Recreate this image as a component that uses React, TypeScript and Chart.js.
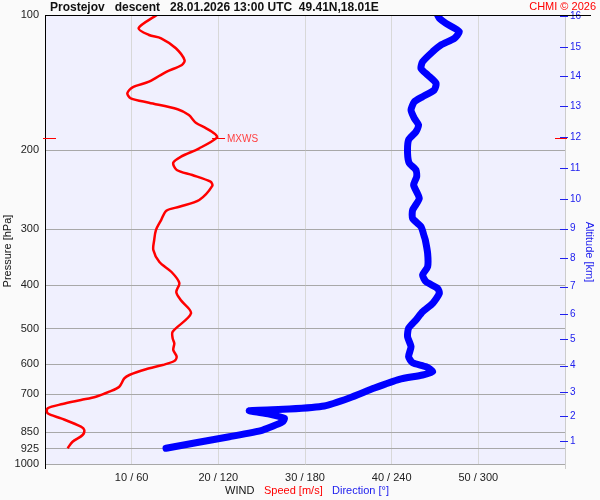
import React, { useEffect, useRef } from 'react';
import { Chart, registerables } from 'chart.js';

Chart.register(...registerables);

const FONT = "'Liberation Sans', Arial, Helvetica, sans-serif";

const TITLE = 'Prostejov   descent   28.01.2026 13:00 UTC  49.41N,18.01E';
const COPYRIGHT = 'CHMI © 2026';

// Wind speed profile [m/s] vs pressure [hPa]
const speedPressure = [
  100, 107, 110.8, 112.7, 118.6, 126, 129.2, 133.8, 140.8, 144.9, 149.4, 153.3, 156.8, 162.2, 167.1,
  173.8, 178.8, 184, 187.5, 198.1, 206.8, 213.3, 221.4, 227.2, 235.1, 240.3, 258.2, 267.3, 272.9,
  286.2, 301.3, 317, 333.7, 354.9, 373.6, 395.3, 414, 431.3, 461.7, 507.4, 524.9, 538.5, 557.3,
  576.8, 589.7, 601.9, 615.3, 633.6, 644.5, 672.8, 690.2, 708.2, 720.3, 735.3, 751.6, 771.1, 791.1,
  825.9, 840, 861.8, 891.9, 922.6,
];
const speedValues = [
  12.9, 10.8, 12.0, 13.4, 15.1, 16.1, 15.8, 14.0, 12.0, 10.1, 9.5, 9.9, 12.0, 15.3, 16.6,
  17.4, 18.6, 19.6, 19.85, 17.8, 15.7, 14.8, 15.2, 17.0, 19.1, 19.3, 17.8, 15.5, 14.0,
  13.4, 12.8, 12.6, 12.5, 13.2, 14.6, 15.5, 15.15, 15.66, 16.85, 14.73, 14.73, 14.92, 14.8,
  15.19, 14.92, 13.57, 11.65, 9.73, 9.15, 8.57, 7.42, 5.88, 4.15, 2.03, 0.3, 0.3, 1.85,
  4.15, 4.53, 4.34, 3.18, 2.61,
];

// Wind direction profile [deg] vs pressure [hPa]
const directionPressure = [
  100, 101.7, 104.4, 108.9, 112.7, 116.6, 120.7, 127.1, 131.5, 136, 141.9, 146.9, 152, 156, 162.8,
  169.9, 175.8, 182, 189.9, 203.2, 213.9, 221.4, 229.2, 239.1, 256, 271.9, 283.7, 296.2, 311.7,
  317, 339.5, 363.6, 379.4, 392.6, 406.2, 416.8, 438.6, 457.9, 477.8, 498.5, 520.6, 548, 576.8,
  594.9, 607.3, 623, 633.6, 647.8, 677.3, 712.9, 742.9, 754.6, 760.3, 774, 791.1, 806.3, 840.2,
  869.5, 896.6, 922.6,
];
const directionValues = [
  271.8, 273, 277.6, 286.8, 283.4, 274.1, 268.4, 261.4, 260.3, 264.9, 270.7, 269.5, 261.4, 255.7, 253.4,
  255.7, 258.6, 256.8, 251.7, 251, 252.2, 256.8, 257.3, 255.2, 259.1, 254.5, 254.5, 260.3, 262.6,
  263.3, 264.9, 264.9, 261.4, 263.8, 271.8, 273, 268.4, 261.4, 256.8, 251.7, 251, 253.4, 251.7,
  254.5, 263.8, 268.4, 261.4, 245.3, 228.1, 210.7, 193.4, 169.1, 141.4, 155.3, 165.7, 164.3, 150.7,
  127.6, 104.5, 83.8,
];

const pressureTicks = [100, 200, 300, 400, 500, 600, 700, 850, 925, 1000];
const speedTicks = [10, 20, 30, 40, 50];
const directionTicks = [60, 120, 180, 240, 300];
const altitudeLabels = [1, 2, 3, 4, 5, 6, 7, 8, 9, 10, 11, 12, 13, 14, 15, 16];
const altitudePressures = [
  888.8, 781.9, 692.5, 604, 527.6, 464.1, 402.9, 348.3, 299.2, 256.6, 218.9, 187.3, 159.5, 136.9, 117.8, 100.4,
];

export default function App() {
  const ref = useRef<HTMLCanvasElement>(null);

  useEffect(() => {
    const canvas = ref.current;
    if (!canvas) return;

    const decor = {
      id: 'decor',
      beforeDraw(chart: any) {
        const { ctx, chartArea: a, width, height } = chart;
        ctx.save();
        ctx.fillStyle = '#fafafa';
        ctx.fillRect(0, 0, width, height);
        ctx.fillStyle = '#f0f0fe';
        ctx.fillRect(a.left, a.top, a.right - a.left, a.bottom - a.top);
        ctx.restore();
      },
      afterDraw(chart: any) {
        const { ctx, chartArea: a } = chart;
        const yS = chart.scales.y;
        const y2S = chart.scales.y2;
        const xS = chart.scales.x;
        ctx.save();

        // top line and left border extension
        ctx.strokeStyle = '#000';
        ctx.lineWidth = 1;
        ctx.beginPath();
        ctx.moveTo(a.left, Math.round(a.top) + 0.5);
        ctx.lineTo(591, Math.round(a.top) + 0.5);
        ctx.moveTo(Math.round(a.left) + 0.5, a.bottom);
        ctx.lineTo(Math.round(a.left) + 0.5, a.bottom + 5);
        ctx.stroke();

        // right border extension
        ctx.strokeStyle = '#cccccc';
        ctx.beginPath();
        ctx.moveTo(Math.round(a.right) + 0.5, a.bottom);
        ctx.lineTo(Math.round(a.right) + 0.5, a.bottom + 5);
        ctx.stroke();

        // title
        ctx.textBaseline = 'middle';
        ctx.textAlign = 'left';
        ctx.fillStyle = '#111';
        ctx.font = `bold 12px ${FONT}`;
        ctx.fillText(TITLE, 50, 8);
        ctx.fillStyle = '#ff0000';
        ctx.font = `11px ${FONT}`;
        ctx.textAlign = 'right';
        ctx.fillText(COPYRIGHT, 596, 7);

        // altitude tick marks
        ctx.strokeStyle = '#2020ee';
        ctx.lineWidth = 1;
        ctx.beginPath();
        altitudePressures.forEach((p) => {
          const y = Math.round(y2S.getPixelForValue(p)) + 0.5;
          ctx.moveTo(a.right - 5, y);
          ctx.lineTo(a.right + 3, y);
        });
        ctx.stroke();

        // max wind markers
        let mi = 0;
        speedValues.forEach((v, i) => {
          if (v > speedValues[mi]) mi = i;
        });
        const py = Math.round(yS.getPixelForValue(speedPressure[mi])) + 0.5;
        const px = xS.getPixelForValue(speedValues[mi]);
        ctx.strokeStyle = '#ff0000';
        ctx.lineWidth = 1;
        ctx.beginPath();
        ctx.moveTo(a.left - 2, py);
        ctx.lineTo(a.left + 11, py);
        ctx.moveTo(a.right - 10, py);
        ctx.lineTo(a.right + 2, py);
        ctx.moveTo(px - 5, py);
        ctx.lineTo(px + 8, py);
        ctx.stroke();
        ctx.fillStyle = '#ff4040';
        ctx.font = `10px ${FONT}`;
        ctx.textAlign = 'left';
        ctx.fillText('MXWS', px + 10, py + 1);

        // axis titles
        ctx.font = `11px ${FONT}`;
        ctx.textAlign = 'center';
        ctx.save();
        ctx.translate(8, 251);
        ctx.rotate(-Math.PI / 2);
        ctx.fillStyle = '#111';
        ctx.fillText('Pressure [hPa]', 0, 0);
        ctx.restore();
        ctx.save();
        ctx.translate(589, 252);
        ctx.rotate(Math.PI / 2);
        ctx.fillStyle = '#2020ee';
        ctx.fillText('Altitude [km]', 0, 0);
        ctx.restore();

        // bottom legend
        ctx.textAlign = 'left';
        ctx.fillStyle = '#111';
        ctx.fillText('WIND', 225, 491);
        ctx.fillStyle = '#ff0000';
        ctx.fillText('Speed [m/s]', 264, 491);
        ctx.fillStyle = '#2020ee';
        ctx.fillText('Direction [°]', 332, 491);

        ctx.restore();
      },
    };

    const chart = new Chart(canvas, {
      type: 'scatter',
      data: {
        datasets: [
          {
            label: 'Speed',
            data: speedPressure.map((p, i) => ({ x: speedValues[i], y: p })),
            xAxisID: 'x',
            yAxisID: 'y',
            showLine: true,
            borderColor: '#ff0000',
            backgroundColor: '#ff0000',
            borderWidth: 2.5,
            pointRadius: 0,
            tension: 0.3,
            borderJoinStyle: 'round',
          } as any,
          {
            label: 'Direction',
            data: directionPressure.map((p, i) => ({ x: directionValues[i], y: p })),
            xAxisID: 'x2',
            yAxisID: 'y',
            showLine: true,
            borderColor: '#0000ff',
            backgroundColor: '#0000ff',
            borderWidth: 7,
            pointRadius: 0,
            tension: 0.2,
            borderCapStyle: 'round',
            borderJoinStyle: 'round',
          } as any,
        ],
      },
      options: {
        animation: false,
        responsive: false,
        maintainAspectRatio: false,
        devicePixelRatio: 1,
        events: [],
        layout: { padding: { top: 15, left: 0, right: 0, bottom: 0 } },
        plugins: {
          legend: { display: false },
          tooltip: { enabled: false },
          title: { display: false },
        },
        scales: {
          x: {
            type: 'linear',
            position: 'bottom',
            min: 0,
            max: 60,
            afterBuildTicks: (s: any) => {
              s.ticks = speedTicks.map((v) => ({ value: v }));
            },
            afterFit: (s: any) => {
              s.height = 36;
            },
            ticks: {
              callback: (_v: any, i: number) => `${speedTicks[i]} / ${directionTicks[i]}`,
              color: '#222',
              font: { family: FONT, size: 11 },
              padding: 7,
              maxRotation: 0,
              autoSkip: false,
            },
            grid: { color: '#d8d8d8', lineWidth: 1, drawTicks: false },
            border: { display: false },
          },
          x2: {
            type: 'linear',
            position: 'bottom',
            min: 0,
            max: 360,
            display: false,
          },
          y: {
            type: 'logarithmic',
            position: 'left',
            min: 100,
            max: 1000,
            reverse: true,
            afterBuildTicks: (s: any) => {
              s.ticks = pressureTicks.map((v) => ({ value: v }));
            },
            afterFit: (s: any) => {
              s.width = 45;
            },
            ticks: {
              callback: (_v: any, i: number) => String(pressureTicks[i]),
              color: '#222',
              font: { family: FONT, size: 11 },
              padding: 6,
              autoSkip: false,
            },
            grid: {
              color: (c: any) => (c.tick && c.tick.value === 100 ? 'rgba(0,0,0,0)' : '#a8a8a8'),
              lineWidth: 1,
              drawTicks: false,
            },
            border: { display: true, color: '#000', width: 1 },
          },
          y2: {
            type: 'logarithmic',
            position: 'right',
            min: 100,
            max: 1000,
            reverse: true,
            afterBuildTicks: (s: any) => {
              s.ticks = altitudePressures.map((v) => ({ value: v }));
            },
            afterFit: (s: any) => {
              s.width = 35;
            },
            ticks: {
              callback: (_v: any, i: number) => String(altitudeLabels[i]),
              color: '#2020ee',
              font: { family: FONT, size: 10 },
              padding: 5,
              autoSkip: false,
            },
            grid: { drawOnChartArea: false, drawTicks: false },
            border: { display: true, color: '#cccccc', width: 1 },
          },
        },
      } as any,
      plugins: [decor],
    });

    return () => chart.destroy();
  }, []);

  return (
    <div style={{ position: 'fixed', left: 0, top: 0, width: 600, height: 500 }}>
      <canvas ref={ref} width={600} height={500} style={{ display: 'block' }} />
    </div>
  );
}
